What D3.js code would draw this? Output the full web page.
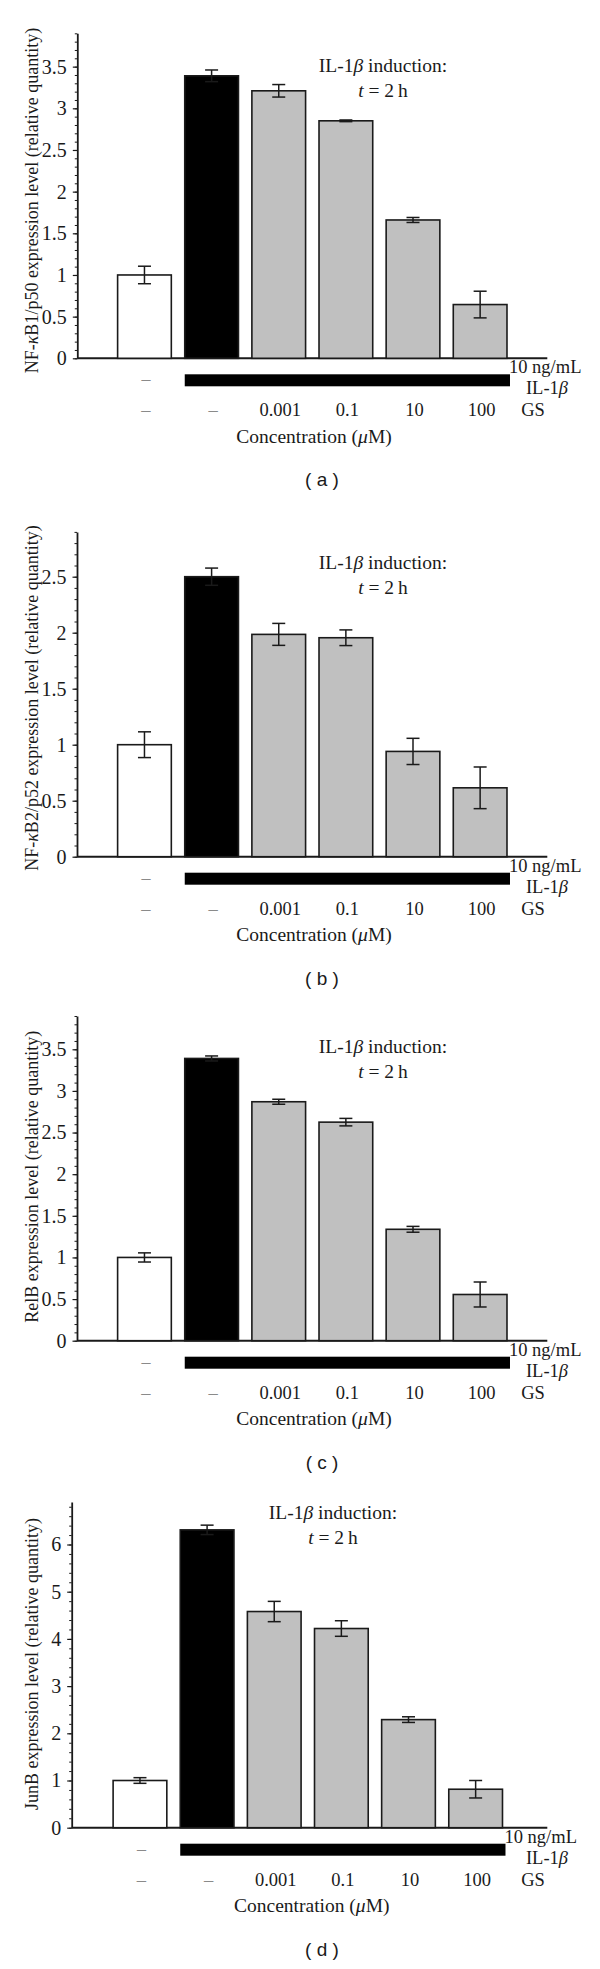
<!DOCTYPE html>
<html>
<head>
<meta charset="utf-8">
<script src="https://cdn.jsdelivr.net/npm/d3@7"></script>
<style>
  html, body { margin: 0; padding: 0; background: #fff; }
  svg { display: block; }
  .serif { font-family: "Liberation Serif", "Times New Roman", serif; fill: #1a1a1a; }
  .sans { font-family: "Liberation Sans", Arial, sans-serif; fill: #1a1a1a; }
</style>
</head>
<body>
<script>
// ---------------- data ----------------
const categories = ["control", "IL-1b", "0.001", "0.1", "10", "100"];
const gsLabels = ["–", "–", "0.001", "0.1", "10", "100"];
const panelLetters = ["a", "b", "c", "d"];

const valuesA = [1.00, 3.39, 3.21, 2.85, 1.66, 0.645];
const errorsA = [0.105, 0.07, 0.075, 0.01, 0.03, 0.16];

const valuesB = [1.00, 2.50, 1.985, 1.955, 0.94, 0.615];
const errorsB = [0.115, 0.077, 0.098, 0.07, 0.117, 0.186];

const valuesC = [1.00, 3.39, 2.87, 2.625, 1.338, 0.555];
const errorsC = [0.055, 0.03, 0.03, 0.045, 0.035, 0.15];

const valuesD = [1.00, 6.31, 4.58, 4.22, 2.29, 0.815];
const errorsD = [0.06, 0.10, 0.215, 0.165, 0.06, 0.185];

const yMaxes = [3.9, 2.9, 3.9, 6.9];
const majorSteps = [0.5, 0.5, 0.5, 1];
const minorSteps = [0.1, 0.1, 0.1, 0.2];

const yTitleGene = [
  ["NF-", "κ", "B1/p50 expression level (relative quantity)"],
  ["NF-", "κ", "B2/p52 expression level (relative quantity)"],
  ["", "", "RelB expression level (relative quantity)"],
  ["", "", "JunB expression level (relative quantity)"]
];

// ---------------- layout (positions only) ----------------
const layout = [
  { y0: 358.3,  axisX: 77.3, plotLeft: 110.9, titleX: 383, titleY: 71.5,   yTitleCy: 200.5 },
  { y0: 856.7,  axisX: 77.0, plotLeft: 110.9, titleX: 383, titleY: 569,    yTitleCy: 698 },
  { y0: 1340.7, axisX: 77.0, plotLeft: 110.9, titleX: 383, titleY: 1053,   yTitleCy: 1176.7 },
  { y0: 1827.7, axisX: 71.7, plotLeft: 106.4, titleX: 333, titleY: 1518.5, yTitleCy: 1664 }
];
const unitPx = [83.33, 112.0, 83.26, 47.2];
const xEnd = 547.3;
const plotWidth = 402.8;

const fills = ["#ffffff", "#000000", "#c0c0c0", "#c0c0c0", "#c0c0c0", "#c0c0c0"];
const allValues = [valuesA, valuesB, valuesC, valuesD];
const allErrors = [errorsA, errorsB, errorsC, errorsD];

const svg = d3.select("body").append("svg")
  .attr("width", 600).attr("height", 1969);

function range(step, max) {
  const n = Math.floor(max / step + 1e-9);
  return d3.range(0, n + 1).map(i => +(i * step).toFixed(4));
}

function drawPanel(i) {
  const L = layout[i];
  const vals = allValues[i], errs = allErrors[i];
  const yMax = yMaxes[i];
  const g = svg.append("g");

  const y = d3.scaleLinear().domain([0, yMax]).range([L.y0, L.y0 - unitPx[i] * yMax]);
  const x = d3.scaleBand().domain(categories)
    .range([L.plotLeft, L.plotLeft + plotWidth])
    .paddingInner(0.2).paddingOuter(0.1);

  // minor ticks
  const minor = range(minorSteps[i], yMax);
  g.append("g").attr("transform", `translate(${L.axisX},0)`)
    .call(d3.axisLeft(y).tickValues(minor).tickSize(2.5).tickSizeOuter(0).tickFormat(""))
    .call(s => s.select(".domain").remove())
    .call(s => s.selectAll("line").attr("stroke", "#1a1a1a").attr("stroke-width", 1));

  // major ticks with labels
  const major = range(majorSteps[i], yMax);
  const ax = g.append("g").attr("transform", `translate(${L.axisX},0)`)
    .call(d3.axisLeft(y).tickValues(major).tickSize(4.5).tickSizeOuter(0).tickPadding(6)
      .tickFormat(d3.format("~g")));
  ax.select(".domain").attr("stroke", "#1a1a1a").attr("stroke-width", 1.8);
  ax.selectAll("line").attr("stroke", "#1a1a1a").attr("stroke-width", 1.2);
  ax.selectAll("text").attr("class", "serif").style("font-size", "20px").attr("fill", "#1a1a1a");

  // x baseline
  g.append("line").attr("x1", L.axisX).attr("x2", xEnd)
    .attr("y1", y(0)).attr("y2", y(0))
    .attr("stroke", "#1a1a1a").attr("stroke-width", 2);

  // bars
  g.selectAll("rect.bar").data(vals).enter().append("rect")
    .attr("class", "bar")
    .attr("x", (d, k) => x(categories[k]))
    .attr("y", d => y(d))
    .attr("width", x.bandwidth())
    .attr("height", d => y(0) - y(d))
    .attr("fill", (d, k) => fills[k])
    .attr("stroke", "#1a1a1a").attr("stroke-width", 1.6);

  // error bars
  const cap = 6.5;
  vals.forEach((v, k) => {
    const cx = x(categories[k]) + x.bandwidth() / 2;
    const eg = g.append("g").attr("stroke", "#1a1a1a").attr("stroke-width", 1.5);
    eg.append("line").attr("x1", cx).attr("x2", cx).attr("y1", y(v - errs[k])).attr("y2", y(v + errs[k]));
    eg.append("line").attr("x1", cx - cap).attr("x2", cx + cap).attr("y1", y(v + errs[k])).attr("y2", y(v + errs[k]));
    eg.append("line").attr("x1", cx - cap).attr("x2", cx + cap).attr("y1", y(v - errs[k])).attr("y2", y(v - errs[k]));
  });

  // IL-1b treatment band
  const bandX0 = x(categories[1]);
  const bandX1 = x(categories[5]) + x.bandwidth() + 3;
  g.append("rect").attr("x", bandX0).attr("y", y(0) + 16)
    .attr("width", bandX1 - bandX0).attr("height", 12).attr("fill", "#000");

  const cxOf = k => x(categories[k]) + x.bandwidth() / 2 + 1.5;

  // IL-1b row dash
  g.append("text").attr("class", "serif").attr("x", cxOf(0)).attr("y", y(0) + 27)
    .attr("text-anchor", "middle").style("font-size", "18px").style("fill", "#8a8a8a")
    .text("–");

  // right labels
  g.append("text").attr("class", "serif").attr("x", bandX1 - 1).attr("y", y(0) + 15)
    .style("font-size", "18.5px").text("10 ng/mL");
  const il = g.append("text").attr("class", "serif").attr("x", 547).attr("y", y(0) + 36)
    .attr("text-anchor", "middle").style("font-size", "18.5px");
  il.append("tspan").text("IL-1");
  il.append("tspan").style("font-style", "italic").text("β");

  // GS row
  gsLabels.forEach((t, k) => {
    const isDash = t === "–";
    g.append("text").attr("class", "serif").attr("x", cxOf(k)).attr("y", y(0) + 58)
      .attr("text-anchor", "middle").style("font-size", "18.5px")
      .style("fill", isDash ? "#8a8a8a" : "#1a1a1a")
      .text(t);
  });
  g.append("text").attr("class", "serif").attr("x", 533).attr("y", y(0) + 58)
    .attr("text-anchor", "middle").style("font-size", "18.5px").text("GS");

  // Concentration label
  const conc = g.append("text").attr("class", "serif").attr("x", 314 + (L.plotLeft - 110.9) * 0.5)
    .attr("y", y(0) + 84.5).attr("text-anchor", "middle").style("font-size", "19.5px");
  conc.append("tspan").text("Concentration (");
  conc.append("tspan").style("font-style", "italic").text("μ");
  conc.append("tspan").text("M)");

  // inset title
  const t1 = g.append("text").attr("class", "serif").attr("x", L.titleX).attr("y", L.titleY)
    .attr("text-anchor", "middle").style("font-size", "19.5px");
  t1.append("tspan").text("IL-1");
  t1.append("tspan").style("font-style", "italic").text("β");
  t1.append("tspan").text(" induction:");
  const t2 = g.append("text").attr("class", "serif").attr("x", L.titleX).attr("y", L.titleY + 25)
    .attr("text-anchor", "middle").style("font-size", "19.5px");
  t2.append("tspan").style("font-style", "italic").text("t");
  t2.append("tspan").text(" = 2\u2009h");

  // y axis title
  const yt = g.append("text").attr("class", "serif")
    .attr("transform", `translate(38,${L.yTitleCy}) rotate(-90)`)
    .attr("text-anchor", "middle").style("font-size", "18px");
  const parts = yTitleGene[i];
  if (parts[0]) yt.append("tspan").text(parts[0]);
  if (parts[1]) yt.append("tspan").style("font-style", "italic").text(parts[1]);
  yt.append("tspan").text(parts[2]);

  // panel letter
  g.append("text").attr("class", "sans").attr("x", 322).attr("y", y(0) + 128)
    .attr("text-anchor", "middle").style("font-size", "19px")
    .text("( " + panelLetters[i] + " )");
}

for (let i = 0; i < 4; i++) drawPanel(i);
</script>
</body>
</html>
